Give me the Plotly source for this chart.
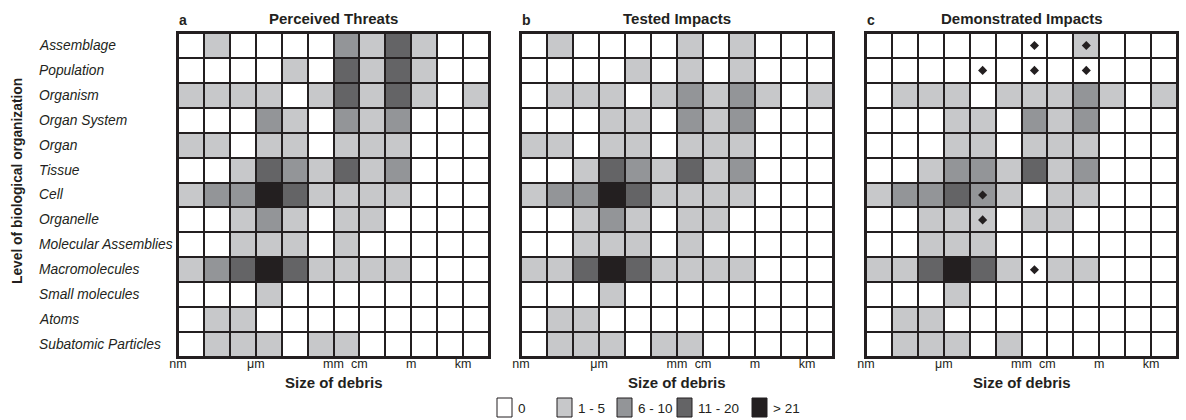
import plotly.graph_objects as go

levels = ["Assemblage", "Population", "Organism", "Organ System", "Organ", "Tissue", "Cell",
          "Organelle", "Molecular Assemblies", "Macromolecules", "Small molecules", "Atoms",
          "Subatomic Particles"]
size_ticks = ["nm", "μm", "mm", "cm", "m", "km"]
size_tick_pos = [0, 3, 6, 7, 9, 11]
n_cols = 12

panel_titles = ["Perceived Threats", "Tested Impacts", "Demonstrated Impacts"]
panel_letters = ["a", "b", "c"]

# category codes: 0 = 0, 1 = 1-5, 2 = 6-10, 3 = 11-20, 4 = >21
perceived = [
    [0, 1, 0, 0, 0, 0, 2, 1, 3, 1, 0, 0],
    [0, 0, 0, 0, 1, 0, 3, 1, 3, 1, 0, 0],
    [1, 1, 1, 1, 0, 1, 3, 1, 3, 1, 0, 1],
    [0, 0, 0, 2, 1, 0, 2, 1, 2, 0, 0, 0],
    [1, 1, 0, 1, 1, 0, 1, 1, 1, 0, 0, 0],
    [0, 0, 1, 3, 2, 1, 3, 1, 2, 0, 0, 0],
    [1, 2, 2, 4, 3, 1, 1, 1, 1, 0, 0, 0],
    [0, 0, 1, 2, 1, 0, 1, 1, 0, 0, 0, 0],
    [0, 0, 1, 1, 1, 0, 1, 0, 0, 0, 0, 0],
    [1, 2, 3, 4, 3, 1, 1, 1, 1, 0, 0, 0],
    [0, 0, 0, 1, 0, 0, 0, 0, 0, 0, 0, 0],
    [0, 1, 1, 0, 0, 0, 0, 0, 0, 0, 0, 0],
    [0, 1, 1, 1, 0, 1, 1, 0, 0, 0, 0, 0],
]
tested = [
    [0, 1, 0, 0, 0, 0, 1, 0, 1, 0, 0, 0],
    [0, 0, 0, 0, 1, 0, 1, 0, 1, 0, 0, 0],
    [0, 1, 1, 1, 0, 1, 2, 1, 2, 1, 0, 1],
    [0, 0, 0, 1, 1, 0, 2, 1, 2, 0, 0, 0],
    [1, 1, 0, 1, 1, 0, 1, 1, 1, 0, 0, 0],
    [0, 0, 1, 3, 2, 1, 3, 1, 2, 0, 0, 0],
    [1, 2, 2, 4, 3, 1, 1, 1, 1, 0, 0, 0],
    [0, 0, 1, 2, 1, 0, 1, 1, 0, 0, 0, 0],
    [0, 0, 1, 1, 1, 0, 1, 0, 0, 0, 0, 0],
    [1, 1, 3, 4, 3, 1, 1, 1, 1, 0, 0, 0],
    [0, 0, 0, 1, 0, 0, 0, 0, 0, 0, 0, 0],
    [0, 1, 1, 0, 0, 0, 0, 0, 0, 0, 0, 0],
    [0, 1, 1, 1, 0, 1, 1, 0, 0, 0, 0, 0],
]
demonstrated = [
    [0, 0, 0, 0, 0, 0, 0, 0, 1, 0, 0, 0],
    [0, 0, 0, 0, 0, 0, 0, 0, 0, 0, 0, 0],
    [0, 1, 1, 1, 0, 1, 1, 1, 2, 1, 0, 1],
    [0, 0, 0, 1, 1, 0, 2, 1, 2, 0, 0, 0],
    [0, 0, 0, 1, 1, 0, 1, 1, 1, 0, 0, 0],
    [0, 0, 1, 2, 2, 1, 3, 1, 2, 0, 0, 0],
    [1, 2, 2, 3, 2, 1, 0, 1, 1, 0, 0, 0],
    [0, 0, 1, 1, 1, 0, 1, 1, 0, 0, 0, 0],
    [0, 0, 1, 1, 1, 0, 0, 0, 0, 0, 0, 0],
    [1, 1, 3, 4, 3, 1, 0, 1, 1, 0, 0, 0],
    [0, 0, 0, 1, 0, 0, 0, 0, 0, 0, 0, 0],
    [0, 1, 1, 0, 0, 0, 0, 0, 0, 0, 0, 0],
    [0, 1, 1, 1, 0, 1, 0, 0, 0, 0, 0, 0],
]
# diamond markers in panel c: (row index, column index)
marker_rows = [0, 0, 1, 1, 1, 6, 7, 9]
marker_cols = [6, 8, 4, 6, 8, 4, 4, 6]

legend_labels = ["0", "1 - 5", "6 - 10", "11 - 20", "> 21"]
legend_colors = ["#ffffff", "#c7c8ca", "#939598", "#646466", "#231f20"]

INK = "#231f20"
FONT = "Liberation Sans, Arial, sans-serif"
W, H = 1186, 420

panels = [perceived, tested, demonstrated]
x_px = [(178, 489), (521, 833), (866, 1177)]
y_top, y_bot = 33, 357

cs = []
for i, c in enumerate(legend_colors):
    cs.append([i / 5, c])
    cs.append([(i + 1) / 5, c])


def ann(xp, yp, text, xanchor="center", yanchor="middle", size=13, **kw):
    fig.add_annotation(x=xp / W, y=1 - yp / H, xref="paper", yref="paper", text=text,
                       xanchor=xanchor, yanchor=yanchor, showarrow=False,
                       font=dict(family=FONT, size=size, color=INK), **kw)


fig = go.Figure()
n_rows = len(levels)
xc = [c + 0.5 for c in range(n_cols)]
yc = [n_rows - 0.5 - r for r in range(n_rows)]

for k, data in enumerate(panels):
    ax = "" if k == 0 else str(k + 1)
    fig.add_trace(go.Heatmap(
        z=data, x=xc, y=yc, zmin=-0.5, zmax=4.5, colorscale=cs, showscale=False,
        xgap=2, ygap=2, xaxis="x" + ax, yaxis="y" + ax, hoverinfo="skip"))
    x0, x1 = x_px[k]
    common = dict(showgrid=False, zeroline=False, showline=True, mirror=True,
                  linecolor=INK, linewidth=1.5, automargin=False, fixedrange=True)
    fig.layout["xaxis" + ax] = dict(
        domain=[x0 / W, x1 / W], range=[0, n_cols], tickmode="array",
        tickvals=size_tick_pos, ticktext=size_ticks, ticks="", ticklabelstandoff=-6,
        tickfont=dict(family=FONT, size=12.5, color=INK), anchor="y" + ax, **common)
    fig.layout["yaxis" + ax] = dict(
        domain=[1 - y_bot / H, 1 - y_top / H], range=[0, n_rows], showticklabels=False,
        ticks="", anchor="x" + ax, **common)
    cx = (x0 + x1) / 2
    ann(cx, 19, "<b>" + panel_titles[k] + "</b>", size=15)
    ann(x0 - 1, 20, "<b>" + panel_letters[k] + "</b>", xanchor="left", size=14)
    ann(cx, 382, "<b>Size of debris</b>", size=15)

fig.add_trace(go.Scatter(
    x=[c + 0.5 for c in marker_cols], y=[n_rows - 0.5 - r for r in marker_rows],
    mode="markers", marker=dict(symbol="diamond", size=7, color=INK),
    xaxis="x3", yaxis="y3", hoverinfo="skip", showlegend=False))

for r, name in enumerate(levels):
    fig.add_annotation(x=37 / W, y=n_rows - 0.5 - r, xref="paper", yref="y", xanchor="left",
                       yanchor="middle", text="<i>" + name + "</i>", showarrow=False,
                       font=dict(family=FONT, size=13.8, color=INK))

ann(17, 181, "<b>Level of biological organization</b>", size=13.8, textangle=-90)

# legend
leg_x = [497, 557, 617, 677, 752]
for i, (lab, col) in enumerate(zip(legend_labels, legend_colors)):
    bx = leg_x[i]
    fig.add_shape(type="rect", xref="paper", yref="paper",
                  x0=bx / W, x1=(bx + 15) / W, y0=1 - 417 / H, y1=1 - 398 / H,
                  fillcolor=col, line=dict(color=INK, width=1))
    ann(bx + 19, 408, lab, xanchor="left", size=13.5)

fig.update_layout(width=W, height=H, margin=dict(l=0, r=0, t=0, b=0, autoexpand=False),
                  paper_bgcolor="white", plot_bgcolor=INK, showlegend=False)
fig.write_html("out.html", config={"displayModeBar": False},
               post_script="document.body.style.margin='0px';")
